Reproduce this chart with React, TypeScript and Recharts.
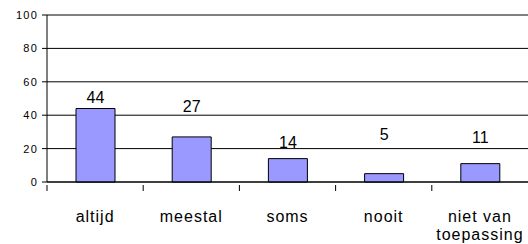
import { BarChart, Bar, XAxis, YAxis, CartesianGrid, LabelList, Text } from "recharts";

const categories = ["altijd", "meestal", "soms", "nooit", "niet van toepassing"];
const percentages = [44, 27, 14, 5, 11];
const yTicks = [0, 20, 40, 60, 80, 100];
// gap in px between the bar top and the label baseline, as placed in the original
const labelGap = [6, 25, 11, 34, 21];

const data = categories.map((name, i) => ({ name, value: percentages[i] }));

const FONT = '"Liberation Sans", Arial, sans-serif';

function CategoryTick(props: any) {
  const { x, y, payload } = props;
  const half = payload?.offset ?? 48;
  const left = x - half;
  return (
    <g>
      <line x1={left} y1={y - 5} x2={left} y2={y + 1} stroke="#000" strokeWidth={1} />
      <Text
        x={x}
        y={y + 21}
        width={half * 2 - 4}
        textAnchor="middle"
        verticalAnchor="start"
        lineHeight={18}
        fontSize={16}
        fontFamily={FONT}
        fill="#000"
        style={{ letterSpacing: "1px", fontSize: 16, fontFamily: FONT }}
      >
        {payload.value}
      </Text>
    </g>
  );
}

function ValueTick(props: any) {
  const { x, y, payload } = props;
  return (
    <text
      x={x + 1}
      y={y}
      dy="0.355em"
      textAnchor="end"
      fontSize={11}
      fontFamily={FONT}
      fill="#000"
      style={{ letterSpacing: "1.2px" }}
    >
      {payload.value}
    </text>
  );
}

function ValueLabel(props: any) {
  const { x, y, width, value } = props;
  let idx = props.index;
  if (idx == null) idx = percentages.indexOf(Number(value));
  const gap = labelGap[idx] ?? 6;
  return (
    <text
      x={x + width / 2}
      y={y - gap}
      textAnchor="middle"
      fontSize={16}
      fontFamily={FONT}
      fill="#000"
    >
      {value}
    </text>
  );
}

export default function App() {
  return (
    <div style={{ position: "absolute", left: 0, top: 0, background: "#fff" }}>
      <BarChart
        width={528}
        height={244}
        data={data}
        margin={{ top: 15, right: 0, left: 0, bottom: 0 }}
      >
        <CartesianGrid vertical={false} stroke="#000" strokeWidth={1} />
        <XAxis
          dataKey="name"
          height={62}
          axisLine={{ stroke: "#000" }}
          tickLine={false}
          interval={0}
          tick={<CategoryTick />}
        />
        <YAxis
          width={47}
          domain={[0, 100]}
          ticks={yTicks}
          interval={0}
          axisLine={{ stroke: "#000" }}
          tickLine={{ stroke: "#000" }}
          tickSize={5}
          tickMargin={5}
          tick={<ValueTick />}
        />
        <Bar
          dataKey="value"
          fill="#9999FF"
          stroke="#000"
          strokeWidth={1}
          barSize={39}
          isAnimationActive={false}
        >
          <LabelList dataKey="value" content={<ValueLabel />} />
        </Bar>
      </BarChart>
    </div>
  );
}
